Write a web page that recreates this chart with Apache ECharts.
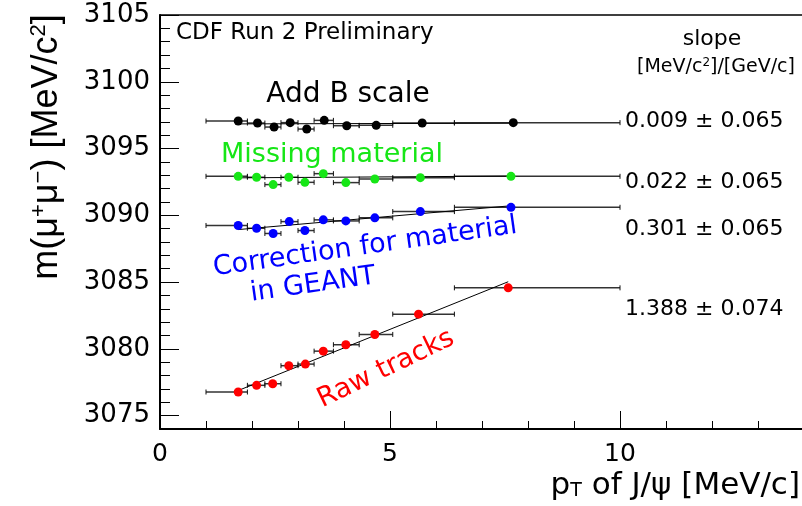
<!DOCTYPE html>
<html>
<head>
<meta charset="utf-8">
<script src="https://cdn.jsdelivr.net/npm/echarts@6/dist/echarts.min.js"></script>
<style>
  html, body { margin: 0; padding: 0; background: #fff; }
  #main { width: 802px; height: 506px; }
</style>
</head>
<body>
<div id="main"></div>
<script>
// bin edges in pT (error bars)
var binLo = [1.0, 1.9, 2.28, 2.63, 3.0, 3.35, 3.77, 4.33, 5.06, 6.4];
var binHi = [1.9, 2.28, 2.63, 3.0, 3.35, 3.77, 4.33, 5.06, 6.4, 10.0];

var blackX = [1.70, 2.12, 2.48, 2.83, 3.19, 3.57, 4.06, 4.70, 5.70, 7.68];
var blackY = [3097.06, 3096.91, 3096.61, 3096.94, 3096.46, 3097.11, 3096.71, 3096.74, 3096.91, 3096.94];

var greenX = [1.70, 2.10, 2.46, 2.80, 3.15, 3.55, 4.04, 4.67, 5.66, 7.63];
var greenY = [3092.92, 3092.85, 3092.30, 3092.85, 3092.47, 3093.12, 3092.45, 3092.72, 3092.82, 3092.92];

var blueX = [1.70, 2.10, 2.46, 2.81, 3.15, 3.55, 4.04, 4.67, 5.66, 7.63];
var blueY = [3089.24, 3089.03, 3088.64, 3089.53, 3088.86, 3089.66, 3089.58, 3089.81, 3090.28, 3090.60];

var redX = [1.70, 2.10, 2.45, 2.80, 3.16, 3.55, 4.04, 4.67, 5.62, 7.57];
var redY = [3076.77, 3077.27, 3077.39, 3078.74, 3078.86, 3079.83, 3080.31, 3081.08, 3082.60, 3084.57];

// straight line fits: y = a + b * pT
var fitSlope = [0.009, 0.022, 0.301, 1.388];
var fitIntercept = [3096.83, 3092.77, 3088.42, 3074.52];
var slopeText = ['0.009 \u00b1 0.065', '0.022 \u00b1 0.065', '0.301 \u00b1 0.065', '1.388 \u00b1 0.074'];

var xMajor = [0, 5, 10];
var yMajor = [3075, 3080, 3085, 3090, 3095, 3100, 3105];

var colors = ['#000000', '#16e616', '#0000ff', '#ff0000'];
var allX = [blackX, greenX, blueX, redX];
var allY = [blackY, greenY, blueY, redY];

var FONT = 'DejaVu Sans';

function renderErr(params, api) {
  var y = api.value(1);
  var p0 = api.coord([api.value(2), y]);
  var p1 = api.coord([api.value(3), y]);
  var c = 2.5;
  return {
    type: 'group',
    children: [
      { type: 'line', shape: { x1: p0[0], y1: p0[1], x2: p1[0], y2: p1[1] }, style: { stroke: '#333', lineWidth: 1.5 } },
      { type: 'line', shape: { x1: p0[0], y1: p0[1] - c, x2: p0[0], y2: p0[1] + c }, style: { stroke: '#111', lineWidth: 1 } },
      { type: 'line', shape: { x1: p1[0], y1: p1[1] - c, x2: p1[0], y2: p1[1] + c }, style: { stroke: '#111', lineWidth: 1 } }
    ]
  };
}

var series = [];
for (var s = 0; s < 4; s++) {
  var xs = allX[s], ys = allY[s];
  var errData = [], ptData = [];
  for (var i = 0; i < xs.length; i++) {
    errData.push([xs[i], ys[i], binLo[i], binHi[i]]);
    ptData.push([xs[i], ys[i]]);
  }
  var x0 = xs[0], x1 = xs[xs.length - 1];
  series.push({
    type: 'custom', renderItem: renderErr, data: errData,
    encode: { x: 0, y: 1 }, z: 2, silent: true
  });
  series.push({
    type: 'line', data: [[x0, fitIntercept[s] + fitSlope[s] * x0], [x1, fitIntercept[s] + fitSlope[s] * x1]],
    showSymbol: false, lineStyle: { color: '#000', width: 1 }, z: 3, silent: true
  });
  series.push({
    type: 'scatter', data: ptData, symbol: 'circle', symbolSize: 9,
    itemStyle: { color: colors[s], opacity: 1 }, z: 4
  });
}

function txt(x, y, text, size, color, opts) {
  opts = opts || {};
  return {
    type: 'text', x: x, y: y, rotation: opts.rot || 0, z: 10,
    style: {
      x: 0, y: 0, text: text, fill: color,
      fontSize: size, fontFamily: opts.family || FONT,
      align: opts.align || 'center', textAlign: opts.align || 'center',
      verticalAlign: 'middle', textVerticalAlign: 'middle',
      rich: opts.rich
    }
  };
}

var valueY = [121, 182, 229, 309];
var graphics = [
  txt(176, 33, 'CDF Run 2 Preliminary', 23, '#000', { align: 'left' }),
  txt(348, 95, 'Add B scale', 28, '#000'),
  txt(332, 155, 'Missing material', 27, colors[1]),
  txt(365, 247, 'Correction for material', 27, colors[2], { rot: 8 * Math.PI / 180 }),
  txt(313, 285, 'in GEANT', 27, colors[2], { rot: 8 * Math.PI / 180 }),
  txt(386, 369, 'Raw tracks', 27, colors[3], { rot: 25.7 * Math.PI / 180 }),
  txt(712, 39, 'slope', 22, '#000'),
  txt(716, 67, '[MeV/c{sup|2}]/[GeV/c]', 19, '#000', {
    rich: { sup: { fontSize: 12, fontFamily: FONT, fill: '#000', verticalAlign: 'top', padding: [0, 0, 8, 0] } }
  }),
  txt(47, 147, 'm(\u03bc{sup|+}\u03bc{sup|\u2212}) [MeV/c{sup|2}]', 36, '#000', {
    rot: Math.PI / 2, family: 'Liberation Sans',
    rich: { sup: { fontSize: 22, fontFamily: 'Liberation Sans', fill: '#000', padding: [0, 0, 16, 0] } }
  }),
  txt(800, 486, 'p{sub|T} of J/\u03c8 [MeV/c]', 31, '#000', {
    align: 'right',
    rich: { sub: { fontSize: 19, fontFamily: FONT, fill: '#000', padding: [11, 0, 0, 0] } }
  })
];
for (var k = 0; k < slopeText.length; k++) {
  graphics.push(txt(625, valueY[k], slopeText[k], 22, '#000', { align: 'left' }));
}

function plain(v) { return String(v); }

var chart = echarts.init(document.getElementById('main'), null, { renderer: 'canvas' });
chart.setOption({
  animation: false,
  backgroundColor: '#fff',
  grid: { left: 160, top: 15, width: 644, height: 414, containLabel: false, outerBoundsMode: 'none' },
  xAxis: [
    {
      type: 'value', min: 0, max: 14, interval: 5, position: 'bottom',
      axisLine: { show: true, lineStyle: { color: '#000', width: 2 } },
      axisTick: { show: true, inside: true, length: 18, lineStyle: { color: '#000', width: 1 } },
      minorTick: { show: true, splitNumber: 5, length: 8, lineStyle: { color: '#000', width: 1 } },
      axisLabel: { color: '#000', fontSize: 25, fontFamily: FONT, margin: 13, customValues: xMajor, formatter: plain },
      splitLine: { show: false }
    },
    {
      type: 'value', min: 0, max: 14, position: 'top',
      axisLine: { show: true, onZero: false, lineStyle: { color: '#000', width: 1.5 } },
      axisTick: { show: false }, axisLabel: { show: false }, splitLine: { show: false }
    }
  ],
  yAxis: [
    {
      type: 'value', min: 3074, max: 3105, interval: 1, position: 'left',
      axisLine: { show: true, lineStyle: { color: '#000', width: 2 } },
      axisTick: { show: true, inside: true, length: 10, lineStyle: { color: '#000', width: 1 } },
      axisLabel: { show: false },
      splitLine: { show: false }
    },
    {
      type: 'value', min: 3074, max: 3105, position: 'left',
      axisLine: { show: false },
      axisTick: { show: true, inside: true, length: 19, customValues: yMajor, lineStyle: { color: '#000', width: 1 } },
      axisLabel: { show: true, customValues: yMajor, color: '#000', fontSize: 26, fontFamily: FONT, margin: 10, formatter: plain },
      splitLine: { show: false }
    }
  ],
  series: series,
  graphic: { elements: graphics }
});
</script>
</body>
</html>
